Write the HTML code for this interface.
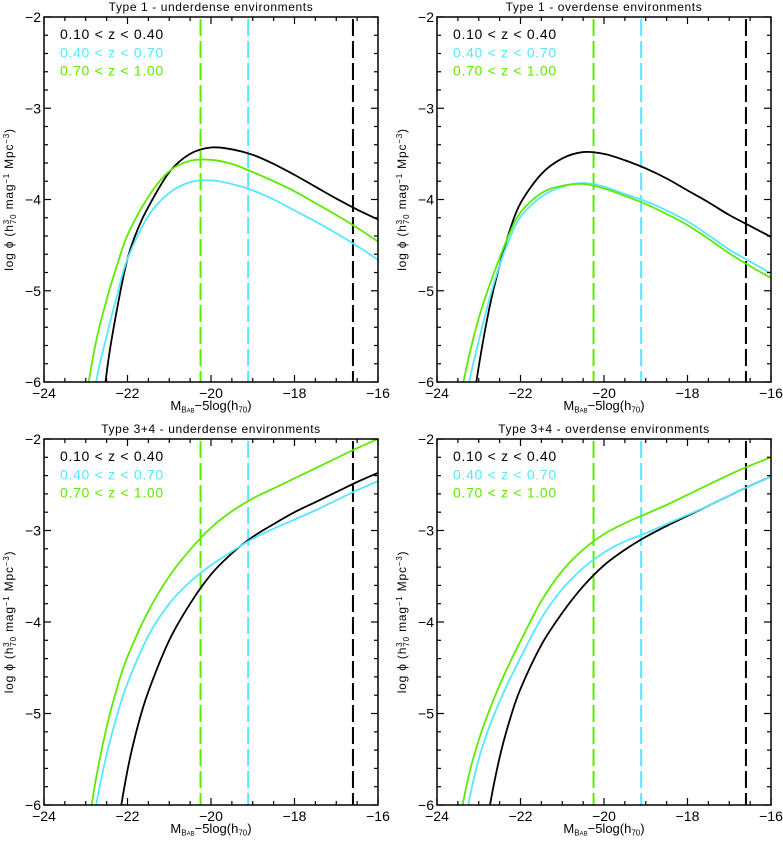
<!DOCTYPE html>
<html><head><meta charset="utf-8"><style>
html,body{margin:0;padding:0;background:#fff;overflow:hidden;width:783px;height:843px;}
svg{display:block;overflow:hidden;}
svg text{font-family:"Liberation Sans","DejaVu Sans",sans-serif;}
</style></head><body>
<svg id="fig" width="783" height="843" viewBox="0 0 783 843" xmlns="http://www.w3.org/2000/svg"></svg>
<script>
// ---- data ----
const panelTitles = ["Type 1 - underdense environments","Type 1 - overdense environments","Type 3+4 - underdense environments","Type 3+4 - overdense environments"];
const seriesLabels = ["0.10 < z < 0.40","0.40 < z < 0.70","0.70 < z < 1.00"];
const xTicks = [-24,-22,-20,-18,-16];
const yTicks = [-2,-3,-4,-5,-6];
const limitMags = [-16.6,-19.11,-20.25]; // black, cyan, green dashed limits

// panel 0 (Type1 under)
const p0_black_M = [-22.75,-22.5,-22.25,-22,-21.75,-21.5,-21,-20.5,-20,-19.5,-19,-18.5,-18,-17.5,-17,-16.5,-16];
const p0_black_v = [-7.0,-5.9,-5.2,-4.65,-4.32,-4.08,-3.7,-3.5,-3.43,-3.45,-3.51,-3.61,-3.73,-3.86,-3.99,-4.11,-4.22];
const p0_cyan_M = [-23,-22.75,-22.5,-22.25,-22,-21.5,-21,-20.5,-20,-19.5,-19,-18.5,-18,-17.5,-17,-16.5,-16];
const p0_cyan_v = [-6.9,-6.0,-5.5,-5.05,-4.65,-4.18,-3.93,-3.81,-3.79,-3.83,-3.90,-4.0,-4.12,-4.24,-4.37,-4.51,-4.66];
const p0_green_M = [-23.25,-23,-22.75,-22.5,-22.25,-22,-21.5,-21,-20.5,-20,-19.5,-19,-18.5,-18,-17.5,-17,-16.5,-16];
const p0_green_v = [-7.0,-6.2,-5.55,-5.1,-4.72,-4.39,-3.97,-3.69,-3.575,-3.565,-3.61,-3.70,-3.80,-3.91,-4.04,-4.17,-4.31,-4.46];
// panel 1 (Type1 over)
const p1_black_M = [-23.25,-23,-22.75,-22.5,-22.25,-22,-21.5,-21,-20.5,-20,-19.5,-19,-18.5,-18,-17.5,-17,-16.5,-16];
const p1_black_v = [-6.6,-5.83,-5.2,-4.72,-4.33,-4.04,-3.72,-3.55,-3.48,-3.50,-3.57,-3.66,-3.77,-3.90,-4.03,-4.17,-4.29,-4.41];
const p1_cyan_M = [-23.5,-23.25,-23,-22.75,-22.5,-22.25,-22,-21.5,-21,-20.5,-20,-19.5,-19,-18.5,-18,-17.5,-17,-16.5,-16];
const p1_cyan_v = [-6.8,-6.05,-5.55,-5.1,-4.72,-4.42,-4.19,-3.97,-3.86,-3.82,-3.86,-3.94,-4.02,-4.12,-4.24,-4.39,-4.55,-4.68,-4.81];
const p1_green_M = [-23.75,-23.5,-23.25,-23,-22.75,-22.5,-22.25,-22,-21.5,-21,-20.5,-20,-19.5,-19,-18.5,-18,-17.5,-17,-16.5,-16];
const p1_green_v = [-6.9,-6.3,-5.75,-5.3,-4.95,-4.64,-4.36,-4.14,-3.93,-3.85,-3.83,-3.88,-3.96,-4.05,-4.16,-4.28,-4.43,-4.59,-4.73,-4.86];
// panel 2 (Type3+4 under)
const p2_black_M = [-22.5,-22.25,-22,-21.75,-21.5,-21,-20.5,-20,-19.5,-19,-18.5,-18,-17.5,-17,-16.5,-16];
const p2_black_v = [-7.2,-6.3,-5.62,-5.13,-4.76,-4.2,-3.8,-3.48,-3.25,-3.07,-2.93,-2.80,-2.69,-2.58,-2.47,-2.37];
const p2_cyan_M = [-23,-22.75,-22.5,-22.25,-22,-21.5,-21,-20.5,-20,-19.5,-19,-18.5,-18,-17.5,-17,-16.5,-16];
const p2_cyan_v = [-6.8,-6.0,-5.45,-5.02,-4.67,-4.15,-3.8,-3.56,-3.38,-3.23,-3.09,-2.98,-2.88,-2.78,-2.67,-2.56,-2.46];
const p2_green_M = [-23.25,-23,-22.75,-22.5,-22.25,-22,-21.5,-21,-20.5,-20,-19.5,-19,-18.5,-18,-17.5,-17,-16.5,-16];
const p2_green_v = [-7.0,-6.4,-5.7,-5.15,-4.72,-4.38,-3.88,-3.50,-3.21,-2.97,-2.79,-2.65,-2.54,-2.43,-2.32,-2.21,-2.10,-2.0];
// panel 3 (Type3+4 over)
const p3_black_M = [-23,-22.75,-22.5,-22.25,-22,-21.5,-21,-20.5,-20,-19.5,-19,-18.5,-18,-17.5,-17,-16.5,-16];
const p3_black_v = [-6.8,-6.05,-5.48,-5.06,-4.73,-4.25,-3.9,-3.61,-3.38,-3.21,-3.07,-2.95,-2.84,-2.73,-2.62,-2.51,-2.41];
const p3_cyan_M = [-23.5,-23.25,-23,-22.75,-22.5,-22.25,-22,-21.5,-21,-20.5,-20,-19.5,-19,-18.5,-18,-17.5,-17,-16.5,-16];
const p3_cyan_v = [-6.8,-6.0,-5.5,-5.15,-4.87,-4.62,-4.39,-3.96,-3.64,-3.41,-3.24,-3.12,-3.03,-2.93,-2.83,-2.73,-2.62,-2.51,-2.41];
const p3_green_M = [-23.75,-23.5,-23.25,-23,-22.75,-22.5,-22.25,-22,-21.5,-21,-20.5,-20,-19.5,-19,-18.5,-18,-17.5,-17,-16.5,-16];
const p3_green_v = [-7.2,-6.3,-5.7,-5.29,-4.97,-4.69,-4.44,-4.21,-3.77,-3.44,-3.21,-3.04,-2.92,-2.82,-2.72,-2.61,-2.50,-2.39,-2.29,-2.20];

const colors = ["#000000","#55e8ff","#5eea00"];
const panelData = [
  [[p0_black_M,p0_black_v],[p0_cyan_M,p0_cyan_v],[p0_green_M,p0_green_v]],
  [[p1_black_M,p1_black_v],[p1_cyan_M,p1_cyan_v],[p1_green_M,p1_green_v]],
  [[p2_black_M,p2_black_v],[p2_cyan_M,p2_cyan_v],[p2_green_M,p2_green_v]],
  [[p3_black_M,p3_black_v],[p3_cyan_M,p3_cyan_v],[p3_green_M,p3_green_v]]
];
const boxes = [{x:44,y:17,w:334,h:365},{x:437,y:17,w:334,h:365},{x:44,y:439,w:334,h:366},{x:437,y:439,w:334,h:366}];

const NS="http://www.w3.org/2000/svg";
const svg=document.getElementById('fig');
function mk(tag,attrs,parent){const e=document.createElementNS(NS,tag);for(const k in attrs)e.setAttribute(k,attrs[k]);(parent||svg).appendChild(e);return e;}

boxes.forEach((b,pi)=>{
  const g=mk('g',{});
  
  
  const sx=M=>b.x+(M+24)/8*b.w;
  const sy=v=>b.y+(-2-v)/4*b.h;
  const cid='clip'+pi;
  const cp=mk('clipPath',{id:cid},g);mk('rect',{x:b.x,y:b.y,width:b.w,height:b.h},cp);
  const t=mk('text',{x:b.x+b.w/2,y:b.y-6,'text-anchor':'middle','font-size':'12','letter-spacing':'0.6',fill:'#000'},g);
  t.textContent=panelTitles[pi];
  
  
  limitMags.forEach((m,i)=>{
    const l=mk('line',{x1:sx(m),x2:sx(m),y1:b.y+2,y2:b.y+b.h,stroke:colors[i],'stroke-width':2,'stroke-dasharray':'17,5'},g);
    
    
  });
  panelData[pi].forEach((s,si)=>{
    const M=s[0],V=s[1];
    const P=M.map((m,i)=>[sx(m),sy(V[i])]);
    let d='M'+P[0][0].toFixed(2)+','+P[0][1].toFixed(2);
    for(let i=0;i<P.length-1;i++){
      const p0=P[Math.max(0,i-1)],p1=P[i],p2=P[i+1],p3=P[Math.min(P.length-1,i+2)];
      const c1=[p1[0]+(p2[0]-p0[0])/6,p1[1]+(p2[1]-p0[1])/6];
      const c2=[p2[0]-(p3[0]-p1[0])/6,p2[1]-(p3[1]-p1[1])/6];
      d+=' C'+c1.map(v=>v.toFixed(2)).join(',')+' '+c2.map(v=>v.toFixed(2)).join(',')+' '+p2.map(v=>v.toFixed(2)).join(',');
    }
    const p=mk('path',{d:d,fill:'none',stroke:colors[si],'stroke-width':1.8,'stroke-linejoin':'round','clip-path':'url(#'+cid+')'},g);
    
    
  });
  const fr=mk('rect',{x:b.x,y:b.y,width:b.w,height:b.h,fill:'none',stroke:'#000','stroke-width':1.5},g);
  
  
  for(let k=0;k<=16;k++){
    const m=-24+k*0.5,major=k%4===0;
    const L=major?7:4,X=sx(m);
    mk('line',{x1:X,x2:X,y1:b.y+b.h,y2:b.y+b.h-L,stroke:'#000','stroke-width':1.2},g);
    mk('line',{x1:X,x2:X,y1:b.y,y2:b.y+L,stroke:'#000','stroke-width':1.2},g);
  }
  for(let k=0;k<=20;k++){
    const v=-2-k*0.2,major=k%5===0,L=major?7:4,Y=sy(v);
    mk('line',{x1:b.x,x2:b.x+L,y1:Y,y2:Y,stroke:'#000','stroke-width':1.2},g);
    mk('line',{x1:b.x+b.w,x2:b.x+b.w-L,y1:Y,y2:Y,stroke:'#000','stroke-width':1.2},g);
  }
  xTicks.forEach(m=>{
    const tx=mk('text',{x:sx(m),y:b.y+b.h+16,'text-anchor':'middle','font-size':'14',fill:'#000'},g);
    tx.textContent=String(m).replace('-','\u2212');
    
    
  });
  yTicks.forEach(v=>{
    const ty=mk('text',{x:b.x-3,y:sy(v)+5,'text-anchor':'end','font-size':'14',fill:'#000'},g);
    ty.textContent=String(v).replace('-','\u2212');
    
    
  });
  const xt=mk('text',{x:b.x+b.w/2,y:b.y+b.h+28,'text-anchor':'middle','font-size':'13',fill:'#000'},g);
  xt.innerHTML='M<tspan font-size="8" dy="2.5">B<tspan font-size="6">AB</tspan></tspan><tspan dy="-2.5">\u22125log(h</tspan><tspan font-size="8" dy="2.5">70</tspan><tspan dy="-2.5">)</tspan>';
  
  
  const yt=mk('text',{x:0,y:0,'text-anchor':'middle','font-size':'12','letter-spacing':'0.8',fill:'#000',transform:'translate('+(b.x-31)+','+(b.y+b.h/2)+') rotate(-90)'},g);
  yt.innerHTML='log \u03d5   (h<tspan font-size="8" dy="-4">3</tspan><tspan font-size="8" dx="-5" dy="7">70</tspan><tspan dy="-3"> mag</tspan><tspan font-size="8" dy="-4">\u22121</tspan><tspan dy="4"> Mpc</tspan><tspan font-size="8" dy="-4">\u22123</tspan><tspan dy="4">)</tspan>';
  
  
  seriesLabels.forEach((s,i)=>{
    const lt=mk('text',{x:b.x+16,y:b.y+22+i*18.3,'font-size':'14','letter-spacing':'0.7',fill:colors[i],'xml:space':'preserve'},g);
    lt.textContent=s.replace(/ < /g,'  <  ');
    
    
  });
});
</script>
</body></html>
